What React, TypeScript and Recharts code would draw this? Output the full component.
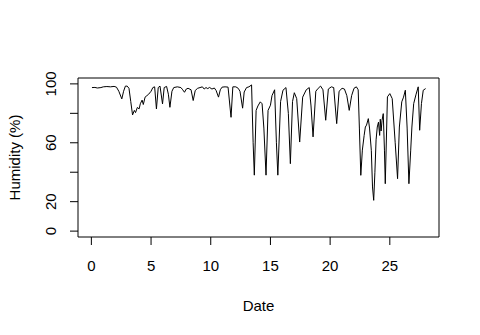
import React from "react";
import { LineChart, Line, XAxis, YAxis, ReferenceArea } from "recharts";

const dates = [
  0.05, 0.3, 0.5, 0.8, 1.0, 1.3, 1.6, 1.9, 2.1, 2.3, 2.55, 2.7, 2.85, 3.0, 3.15, 3.3, 3.45, 3.6, 3.7, 3.85,
  4.0, 4.1, 4.25, 4.35, 4.5, 4.65, 4.8, 5.0, 5.15, 5.3, 5.45, 5.6, 5.75, 5.96, 6.1, 6.3, 6.45, 6.58, 6.75, 6.9,
  7.2, 7.5, 7.65, 7.8, 7.95, 8.1, 8.35, 8.53, 8.7, 8.9, 9.1, 9.3, 9.45, 9.6, 9.75, 9.9, 10.1, 10.3, 10.45, 10.65,
  10.8, 10.95, 11.2, 11.45, 11.7, 11.85, 12.1, 12.3, 12.45, 12.67, 12.8, 13.0, 13.2, 13.42, 13.55, 13.65, 13.8, 13.95, 14.15, 14.3,
  14.45, 14.63, 14.8, 15.0, 15.13, 15.35, 15.5, 15.62, 15.85, 16.05, 16.3, 16.5, 16.67, 16.85, 17.0, 17.2, 17.45, 17.7, 18.0, 18.25,
  18.4, 18.57, 18.8, 19.0, 19.2, 19.4, 19.63, 19.85, 20.1, 20.3, 20.55, 20.75, 21.0, 21.2, 21.4, 21.6, 21.8, 22.0, 22.2, 22.35,
  22.45, 22.57, 22.7, 22.85, 22.95, 23.05, 23.2, 23.3, 23.45, 23.55, 23.65, 23.75, 23.85, 23.95, 24.05, 24.15, 24.2, 24.27, 24.35, 24.45,
  24.55, 24.62, 24.8, 25.0, 25.2, 25.45, 25.65, 25.8, 26.0, 26.15, 26.3, 26.45, 26.6, 26.75, 26.85, 27.0, 27.2, 27.38, 27.5, 27.65,
  27.8, 28.0,
];

const humidity = [
  97.5, 97.6, 97.2, 97.5, 98.0, 98.2, 98.0, 98.3, 97.8, 95.0, 89.8, 95.0, 98.5, 98.5, 97.0, 88.0, 78.9, 82.0, 80.5, 84.0,
  83.0, 86.5, 89.0, 86.0, 91.0, 92.0, 93.0, 95.0, 97.5, 98.0, 83.0, 97.5, 98.5, 86.4, 97.5, 98.3, 93.0, 84.1, 95.0, 97.5,
  98.0, 97.5, 96.0, 94.3, 96.5, 97.0, 96.0, 88.7, 95.5, 97.0, 97.5, 98.0, 96.5, 97.5, 96.8, 97.6, 96.5, 97.2, 95.5, 91.0,
  96.0, 97.8, 98.0, 97.8, 77.3, 98.0, 98.0, 97.0, 95.0, 83.5, 94.5, 97.5, 98.0, 99.3, 60.0, 38.0, 82.0, 85.0, 87.8, 86.5,
  70.0, 38.0, 82.0, 85.5, 92.0, 96.0, 60.0, 38.0, 88.0, 95.7, 97.5, 80.0, 45.8, 88.0, 94.0, 90.0, 60.5, 91.0, 96.0, 97.5,
  85.0, 64.0, 95.0, 97.0, 98.5, 96.0, 75.3, 96.5, 98.0, 97.5, 73.0, 95.0, 97.0, 96.5, 92.0, 82.0, 92.0, 97.0, 98.0, 96.0,
  70.0, 37.9, 55.0, 65.0, 70.7, 72.0, 76.4, 70.0, 54.9, 30.0, 20.9, 40.0, 62.0, 70.7, 74.0, 65.0, 76.0, 68.0, 75.3, 79.8,
  55.0, 32.2, 91.2, 93.4, 90.0, 60.0, 35.6, 70.7, 87.8, 91.0, 95.7, 70.0, 32.2, 55.0, 70.7, 86.6, 93.0, 98.0, 68.5, 86.6,
  95.7, 96.8,
];

const xTicks = [0, 5, 10, 15, 20, 25];
const yTicks = [0, 20, 40, 60, 80, 100];
const yLabeled = [0, 20, 60, 100];
const xDomain = [-1.12, 29.12];
const yDomain = [-4, 104];

const data = dates.map((d, i) => ({ date: d, humidity: humidity[i] }));

const FONT = "Liberation Sans, Arial, sans-serif";
const FS = 15;

const XTick = (props: any) => {
  const { x, y, payload } = props;
  return (
    <text x={x} y={y + 24} textAnchor="middle" fontFamily={FONT} fontSize={FS} fill="#000">
      {payload.value}
    </text>
  );
};

const YTick = (props: any) => {
  const { x, y, payload } = props;
  if (!yLabeled.includes(payload.value)) return <g />;
  const bx = x - 11.5;
  return (
    <text
      x={bx}
      y={y}
      transform={`rotate(-90, ${bx}, ${y})`}
      textAnchor="middle"
      fontFamily={FONT}
      fontSize={FS}
      fill="#000"
    >
      {payload.value}
    </text>
  );
};

export default function App() {
  return (
    <div style={{ position: "absolute", left: 0, top: 0, width: 480, height: 335, background: "#fff" }}>
      <LineChart width={480} height={335} data={data} margin={{ top: 78, right: 41, left: 0, bottom: 0 }}>
        <XAxis
          type="number"
          dataKey="date"
          domain={xDomain}
          ticks={xTicks}
          interval={0}
          allowDataOverflow
          height={98}
          axisLine={false}
          tickSize={8}
          tickLine={{ stroke: "#000" }}
          tick={<XTick />}
          label={() => (
            <text x={258.5} y={311} textAnchor="middle" fontFamily={FONT} fontSize={FS} fill="#000">
              Date
            </text>
          )}
        />
        <YAxis
          type="number"
          domain={yDomain}
          ticks={yTicks}
          interval={0}
          allowDataOverflow
          width={78}
          axisLine={false}
          tickSize={8}
          tickLine={{ stroke: "#000" }}
          tick={<YTick />}
          label={() => (
            <text
              x={20}
              y={157.5}
              transform="rotate(-90, 20, 157.5)"
              textAnchor="middle"
              fontFamily={FONT}
              fontSize={FS}
              fill="#000"
            >
              Humidity (%)
            </text>
          )}
        />
        <ReferenceArea
          x1={xDomain[0]}
          x2={xDomain[1]}
          y1={yDomain[0]}
          y2={yDomain[1]}
          fill="none"
          stroke="#000"
          strokeWidth={1}
          fillOpacity={0}
        />
        <Line
          type="linear"
          dataKey="humidity"
          stroke="#000"
          strokeWidth={1}
          dot={false}
          isAnimationActive={false}
        />
      </LineChart>
    </div>
  );
}
